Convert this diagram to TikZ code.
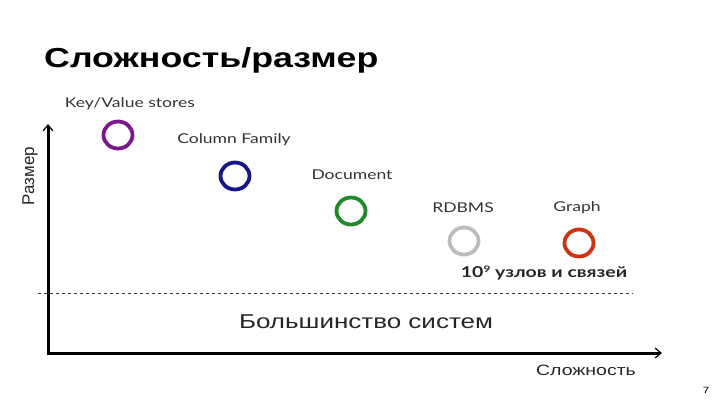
\documentclass[tikz,border=0pt]{standalone}
\usepackage{fontspec}
\setmainfont{Liberation Sans}[FakeStretch=1.3]
\newfontfamily\plainsans{Liberation Sans}
\newfontfamily\gill{Lato}[FakeStretch=1.3]
\usetikzlibrary{arrows.meta,shapes.geometric}
\definecolor{cpurple}{HTML}{7A1A8A}
\definecolor{cblue}{HTML}{15158A}
\definecolor{cgreen}{HTML}{1E8A2A}
\definecolor{cgrey}{HTML}{BDBDBD}
\definecolor{cred}{HTML}{CC3312}
\begin{document}
\begin{tikzpicture}[x=1pt,y=-1pt,
  ring/.style={draw=#1,line width=3.8pt,ellipse,minimum width=29pt,minimum height=27pt,inner sep=0pt},
  dblabel/.style={font=\gill\fontsize{13.5}{15}\selectfont,text=black!80,inner sep=0pt},
  axis/.style={line width=3pt,-{Straight Barb[length=6pt,width=10pt,line width=1.2pt]}}]
\useasboundingbox (0,0) rectangle (720,405);
\node[anchor=base west,inner sep=0pt,font=\bfseries\fontsize{27.5}{32}\selectfont] (title) at (44,67) {Сложность/размер};
% axes
\coordinate (origin) at (48,353);
\coordinate (ytop) at (48,124);
\coordinate (xend) at (662,353);
\draw[axis] (origin) -- (ytop);
\draw[axis] ([xshift=-1.5pt]origin) -- (xend);
% dashed line
\coordinate (dl) at (38,293);
\coordinate (dr) at (633,293);
\draw[line width=0.8pt,dash pattern=on 3pt off 3pt,black!80] (dl) -- (dr);
% rings
\node[ring=cpurple] (kv) at (118,135) {};
\node[ring=cblue] (cf) at (235,176) {};
\node[ring=cgreen] (doc) at (351,211) {};
\node[ring=cgrey] (rdb) at (464,241) {};
\node[ring=cred] (gr) at (579,243) {};
% labels
\node[dblabel] (kvl) at (130,104) {Key/Value stores};
\node[dblabel] (cfl) at (234,140) {Column Family};
\node[dblabel] (docl) at (352,175) {Document};
\node[dblabel] (rdbl) at (463,208) {RDBMS};
\node[dblabel] (grl) at (577,208) {Graph};
\node[font=\gill\bfseries\fontsize{15}{17}\selectfont,text=black!85,inner sep=0pt] (nodes) at (544,273) {10{\fontsize{9}{10}\selectfont\raisebox{4.5pt}{9}} узлов и связей};
\node[font=\fontsize{20}{24}\selectfont,text=black!85,inner sep=0pt] (most) at (366,322) {Большинство систем};
\node[font=\fontsize{15}{18}\selectfont,text=black!85,inner sep=0pt] (xl) at (586,370) {Сложность};
\node[font=\plainsans\fontsize{17}{20}\selectfont,text=black!85,rotate=90,inner sep=0pt] (yl) at (30,176) {Размер};
\node[font=\fontsize{9}{11}\selectfont,inner sep=0pt] (pg) at (706,390) {7};
\end{tikzpicture}
\end{document}
